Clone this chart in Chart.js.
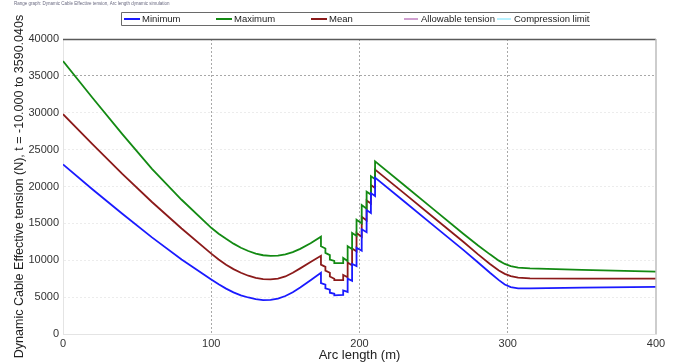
<!DOCTYPE html>
<html>
<head>
<meta charset="utf-8">
<title>Range graph - Dynamic Cable Effective tension</title>
<script src="https://cdn.jsdelivr.net/npm/chart.js@4.4.0/dist/chart.umd.min.js"></script>
<style>
    html, body { margin: 0; padding: 0; background: #ffffff; }
    #rangeChart { display: block; }
</style>
</head>
<body>
<canvas id="rangeChart" width="678" height="364"></canvas>
<script>
// Arc length stations (m) - repeated stations are the vertical steps
const arcLength = [0, 20, 40, 60, 80, 100, 105, 110, 115, 120, 125, 130, 135, 140, 145, 150, 155, 160, 167, 174, 174, 177, 177, 180, 180, 183, 183, 189, 189, 192, 192, 195, 195, 198, 198, 201.5, 201.5, 204.8, 204.8, 207.7, 207.7, 210.5, 210.5, 230, 250, 270, 280, 288, 294, 298, 302, 307, 315, 350, 400];

// Effective tension (N)
const minTension = [23000, 19600, 16300, 13100, 10100, 7400, 6750, 6150, 5650, 5250, 4950, 4720, 4600, 4620, 4800, 5150, 5650, 6300, 7300, 8300, 6900, 6700, 6200, 6000, 5600, 5450, 5250, 5300, 5900, 5700, 7500, 7200, 9500, 9200, 11700, 11300, 14200, 13800, 16800, 16400, 19100, 18700, 21200, 18000, 14700, 11400, 9700, 8300, 7300, 6700, 6350, 6200, 6200, 6300, 6400];
const maxTension = [37000, 32000, 27100, 22400, 18200, 14400, 13600, 12900, 12250, 11700, 11250, 10900, 10680, 10580, 10620, 10800, 11100, 11550, 12300, 13200, 11900, 11600, 11000, 10700, 10100, 9900, 9600, 9600, 10300, 9900, 11900, 11500, 13700, 13300, 15500, 15000, 17500, 17000, 19300, 18900, 21400, 21000, 23400, 20200, 16900, 13600, 12000, 10800, 9950, 9500, 9200, 9000, 8900, 8700, 8450];
const meanTension = [29800, 25700, 21700, 17900, 14300, 10900, 10100, 9400, 8800, 8300, 7900, 7620, 7450, 7400, 7500, 7800, 8300, 8900, 9750, 10600, 9400, 9100, 8600, 8300, 7800, 7500, 7300, 7300, 8000, 7700, 9700, 9300, 11600, 11200, 13700, 13200, 15900, 15400, 18100, 17700, 20200, 19800, 22300, 19100, 15800, 12500, 10800, 9500, 8600, 8150, 7850, 7650, 7550, 7500, 7500];

// Axis ticks
const xTicks = [0, 100, 200, 300, 400];
const yTicks = [0, 5000, 10000, 15000, 20000, 25000, 30000, 35000, 40000];

const headerText = 'Range graph: Dynamic Cable Effective tension, Arc length dynamic simulation';
const fontFamily = '"Liberation Sans", Arial, sans-serif';

/**
 * Pair arc length with a tension series
 */
function toPoints(values) {
    return values.map((v, i) => ({ x: arcLength[i], y: v }));
}

/**
 * Frame, header and boxed legend drawn on the canvas
 */
const framePlugin = {
    id: 'frameLegend',
    afterDraw(chart) {
        const ctx = chart.ctx;
        const area = chart.chartArea;
        ctx.save();

        // top and right frame
        ctx.lineWidth = 1.5;
        ctx.strokeStyle = '#5a5a5a';
        ctx.beginPath();
        ctx.moveTo(area.left, area.top + 0.5);
        ctx.lineTo(area.right, area.top + 0.5);
        ctx.stroke();
        ctx.strokeStyle = '#bdbdbd';
        ctx.beginPath();
        ctx.moveTo(area.right, area.top);
        ctx.lineTo(area.right, area.bottom);
        ctx.stroke();

        // tiny header
        ctx.fillStyle = '#6a6a80';
        ctx.font = '4.5px ' + fontFamily;
        ctx.textBaseline = 'middle';
        ctx.fillText(headerText, 14, 4);

        // legend box
        ctx.strokeStyle = '#6a6a6a';
        ctx.lineWidth = 1;
        ctx.beginPath();
        ctx.moveTo(590, 12.5);
        ctx.lineTo(121.5, 12.5);
        ctx.lineTo(121.5, 25.5);
        ctx.lineTo(590, 25.5);
        ctx.stroke();

        const legendX = [124, 216, 311, 404, 497];
        ctx.font = '9.5px ' + fontFamily;
        chart.data.datasets.forEach((ds, i) => {
            const x = legendX[i];
            const thin = ds.data.length === 0;
            ctx.strokeStyle = ds.borderColor;
            ctx.lineWidth = thin ? 1 : 2;
            ctx.beginPath();
            ctx.moveTo(x, 19);
            ctx.lineTo(x + (thin ? 14 : 16), 19);
            ctx.stroke();
            ctx.fillStyle = '#222';
            ctx.fillText(ds.label, x + (thin ? 17 : 18), 19.5);
        });

        ctx.restore();
    }
};

/**
 * Build the range graph
 */
function initRangeChart() {
    const ctx = document.getElementById('rangeChart').getContext('2d');

    new Chart(ctx, {
        type: 'line',
        data: {
            datasets: [
                { label: 'Minimum', data: toPoints(minTension), borderColor: '#1a1aff', borderWidth: 1.8 },
                { label: 'Maximum', data: toPoints(maxTension), borderColor: '#138a13', borderWidth: 1.8 },
                { label: 'Mean', data: toPoints(meanTension), borderColor: '#8b1a1a', borderWidth: 1.8 },
                { label: 'Allowable tension', data: [], borderColor: '#a040a0', borderWidth: 1 },
                { label: 'Compression limit', data: [], borderColor: '#70e4ff', borderWidth: 1 }
            ]
        },
        options: {
            responsive: false,
            devicePixelRatio: 1,
            animation: false,
            elements: {
                point: { radius: 0 },
                line: { tension: 0, fill: false }
            },
            layout: { padding: { top: 39, right: 22, left: 0, bottom: 0 } },
            plugins: {
                legend: { display: false },
                tooltip: { enabled: false }
            },
            scales: {
                x: {
                    type: 'linear',
                    min: 0,
                    max: 400,
                    afterBuildTicks: (scale) => { scale.ticks = xTicks.map(v => ({ value: v })); },
                    afterFit: (scale) => { scale.height = 30; },
                    ticks: {
                        padding: 3,
                        color: '#333',
                        callback: (v) => String(v),
                        font: { family: fontFamily, size: 11 }
                    },
                    grid: {
                        drawTicks: false,
                        lineWidth: 1,
                        color: (c) => (c.tick && c.tick.value > 0 && c.tick.value < 400) ? '#a8a8a8' : 'rgba(0,0,0,0)'
                    },
                    border: { display: true, color: '#e4e4e4', dash: [2, 2] },
                    title: {
                        display: true,
                        text: 'Arc length (m)',
                        color: '#222',
                        padding: { top: 0, bottom: 1 },
                        font: { family: fontFamily, size: 13 }
                    }
                },
                y: {
                    type: 'linear',
                    min: 0,
                    max: 40000,
                    afterBuildTicks: (scale) => { scale.ticks = yTicks.map(v => ({ value: v })); },
                    afterFit: (scale) => { scale.width = 63; },
                    ticks: {
                        padding: 4,
                        color: '#333',
                        callback: (v) => String(v),
                        font: { family: fontFamily, size: 11 }
                    },
                    grid: {
                        drawTicks: false,
                        lineWidth: 1,
                        color: (c) => {
                            if (!c.tick) return 'rgba(0,0,0,0)';
                            if (c.tick.value === 35000) return '#a8a8a8';
                            if (c.tick.value === 0 || c.tick.value === 40000) return 'rgba(0,0,0,0)';
                            return '#ececec';
                        }
                    },
                    border: { display: true, color: '#e4e4e4', dash: [2, 2] },
                    title: {
                        display: true,
                        text: 'Dynamic Cable Effective tension (N), t = -10.000 to 3590.040s',
                        color: '#222',
                        padding: { top: 12, bottom: 0 },
                        font: { family: fontFamily, size: 12.5 }
                    }
                }
            }
        },
        plugins: [framePlugin]
    });
}

initRangeChart();
</script>
</body>
</html>
